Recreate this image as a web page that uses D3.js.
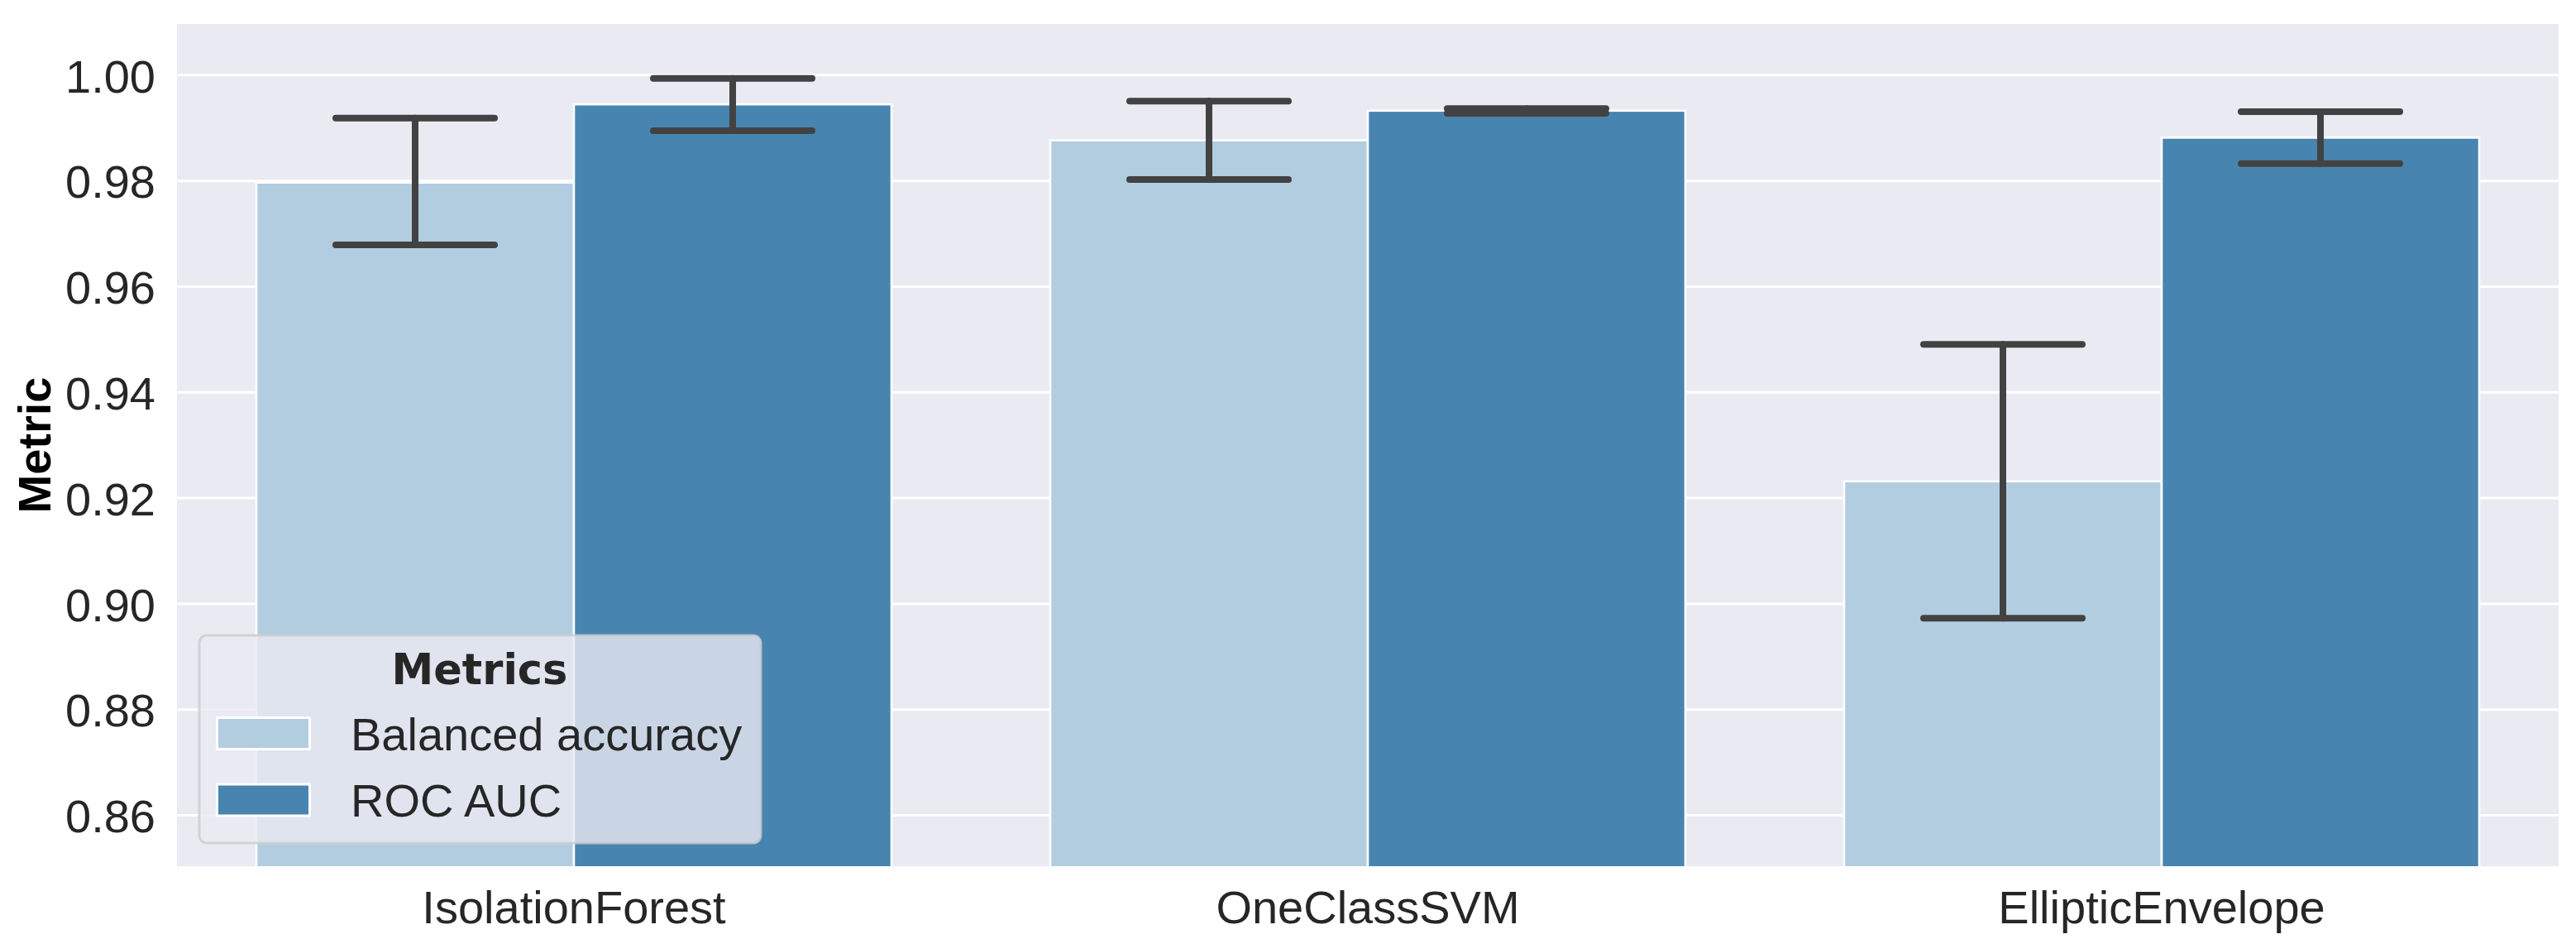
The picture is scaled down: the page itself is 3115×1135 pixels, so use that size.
<!DOCTYPE html>
<html>
<head>
<meta charset="utf-8">
<script src="https://cdn.jsdelivr.net/npm/d3@7"></script>
<style>
  html, body { margin: 0; padding: 0; background: #ffffff; }
  svg { display: block; }
</style>
</head>
<body>
<script>
// ---------------- data ----------------
const categories = ["IsolationForest", "OneClassSVM", "EllipticEnvelope"];
const metrics = ["Balanced accuracy", "ROC AUC"];
const balancedAccuracy = [0.9796, 0.9876, 0.9231];
const balancedAccuracyLow = [0.9678, 0.9802, 0.8972];
const balancedAccuracyHigh = [0.9918, 0.9950, 0.9490];
const rocAuc = [0.9944, 0.9932, 0.9881];
const rocAucLow = [0.9894, 0.9927, 0.9832];
const rocAucHigh = [0.9993, 0.9936, 0.9930];
const yTicks = [0.86, 0.88, 0.90, 0.92, 0.94, 0.96, 0.98, 1.00];
const yDomain = [0.8503, 1.0096];
const yLabel = "Metric";
const legendTitle = "Metrics";

// ---------------- layout ----------------
const W = 3115, H = 1135;
const plot = { left: 214, right: 3094, top: 29, bottom: 1047 };
const colors = { "Balanced accuracy": "#b3cde0", "ROC AUC": "#4884b0" };
const bg = "#eaeaf2";
const errColor = "#424242";
const fontSans = "'Liberation Sans', Arial, Helvetica, sans-serif";
const fontSize = 56;

const svg = d3.select("body").append("svg")
  .attr("width", W).attr("height", H)
  .attr("viewBox", `0 0 ${W} ${H}`);

// build table from arrays
const rows = [];
categories.forEach((c, i) => {
  rows.push({ cat: c, metric: metrics[0], value: balancedAccuracy[i], lo: balancedAccuracyLow[i], hi: balancedAccuracyHigh[i] });
  rows.push({ cat: c, metric: metrics[1], value: rocAuc[i], lo: rocAucLow[i], hi: rocAucHigh[i] });
});

const x = d3.scaleBand().domain(categories).range([plot.left, plot.right]).padding(0);
const bw = x.bandwidth();
const xSub = d3.scaleBand().domain(metrics).range([0.1 * bw, 0.9 * bw]).padding(0);
const y = d3.scaleLinear().domain(yDomain).range([plot.bottom, plot.top]);

// background
svg.append("rect")
  .attr("x", plot.left).attr("y", plot.top)
  .attr("width", plot.right - plot.left).attr("height", plot.bottom - plot.top)
  .attr("fill", bg);

// clip
svg.append("clipPath").attr("id", "clip").append("rect")
  .attr("x", plot.left).attr("y", plot.top)
  .attr("width", plot.right - plot.left).attr("height", plot.bottom - plot.top);

// gridlines
const grid = svg.append("g")
  .attr("transform", `translate(${plot.left},0)`)
  .call(d3.axisLeft(y).tickValues(yTicks).tickSize(-(plot.right - plot.left)).tickFormat(""));
grid.select(".domain").remove();
grid.selectAll("line").attr("stroke", "#ffffff").attr("stroke-width", 3);

// bars
const g = svg.append("g").attr("clip-path", "url(#clip)");
g.selectAll("rect.bar").data(rows).join("rect")
  .attr("class", "bar")
  .attr("x", d => x(d.cat) + xSub(d.metric))
  .attr("y", d => y(d.value))
  .attr("width", xSub.bandwidth())
  .attr("height", d => plot.bottom + 10 - y(d.value))
  .attr("fill", d => colors[d.metric])
  .attr("stroke", "#ffffff")
  .attr("stroke-width", 2.6);

// error bars
const capHalf = xSub.bandwidth() * 0.25;
const eb = svg.append("g").attr("stroke", errColor).attr("stroke-width", 8).attr("stroke-linecap", "round");
rows.forEach(d => {
  const cx = x(d.cat) + xSub(d.metric) + xSub.bandwidth() / 2;
  eb.append("line").attr("x1", cx).attr("x2", cx).attr("y1", y(d.lo)).attr("y2", y(d.hi));
  eb.append("line").attr("x1", cx - capHalf).attr("x2", cx + capHalf).attr("y1", y(d.lo)).attr("y2", y(d.lo));
  eb.append("line").attr("x1", cx - capHalf).attr("x2", cx + capHalf).attr("y1", y(d.hi)).attr("y2", y(d.hi));
});

// y axis
const yAxis = svg.append("g")
  .attr("transform", `translate(${plot.left},0)`)
  .call(d3.axisLeft(y).tickValues(yTicks).tickSize(0).tickPadding(26).tickFormat(d3.format(".2f")));
yAxis.select(".domain").remove();
yAxis.selectAll("text")
  .attr("font-family", fontSans).attr("font-size", fontSize)
  .attr("fill", "#262626").attr("dy", "0.37em");

// x axis
const xAxis = svg.append("g")
  .attr("transform", `translate(0,${plot.bottom})`)
  .call(d3.axisBottom(x).tickSize(0).tickPadding(0));
xAxis.select(".domain").remove();
xAxis.selectAll("text")
  .attr("font-family", fontSans).attr("font-size", fontSize)
  .attr("fill", "#262626").attr("y", 69).attr("dy", 0);

// y label
svg.append("text")
  .attr("transform", `translate(61,${(plot.top + plot.bottom) / 2}) rotate(-90)`)
  .attr("text-anchor", "middle")
  .attr("font-family", fontSans).attr("font-size", fontSize).attr("font-weight", "bold")
  .attr("fill", "#000000")
  .text(yLabel);

// legend
const leg = svg.append("g");
leg.append("rect")
  .attr("x", 241).attr("y", 768).attr("width", 679).attr("height", 251)
  .attr("rx", 9).attr("ry", 9)
  .attr("fill", bg).attr("fill-opacity", 0.8)
  .attr("stroke", "#cccccc").attr("stroke-opacity", 0.8).attr("stroke-width", 3);
leg.append("text")
  .attr("x", 580).attr("y", 827)
  .attr("text-anchor", "middle")
  .attr("font-family", "'DejaVu Sans', sans-serif").attr("font-weight", "bold").attr("font-size", 51)
  .attr("fill", "#262626")
  .text(legendTitle);
const legY = d3.scalePoint().domain(metrics).range([886.5, 967]);
metrics.forEach(m => {
  leg.append("rect")
    .attr("x", 262.5).attr("y", legY(m) - 19)
    .attr("width", 112).attr("height", 38)
    .attr("fill", colors[m]).attr("stroke", "#ffffff").attr("stroke-width", 3);
  leg.append("text")
    .attr("x", 424).attr("y", legY(m) + 20)
    .attr("font-family", fontSans).attr("font-size", fontSize)
    .attr("fill", "#262626")
    .text(m);
});
</script>
</body>
</html>
